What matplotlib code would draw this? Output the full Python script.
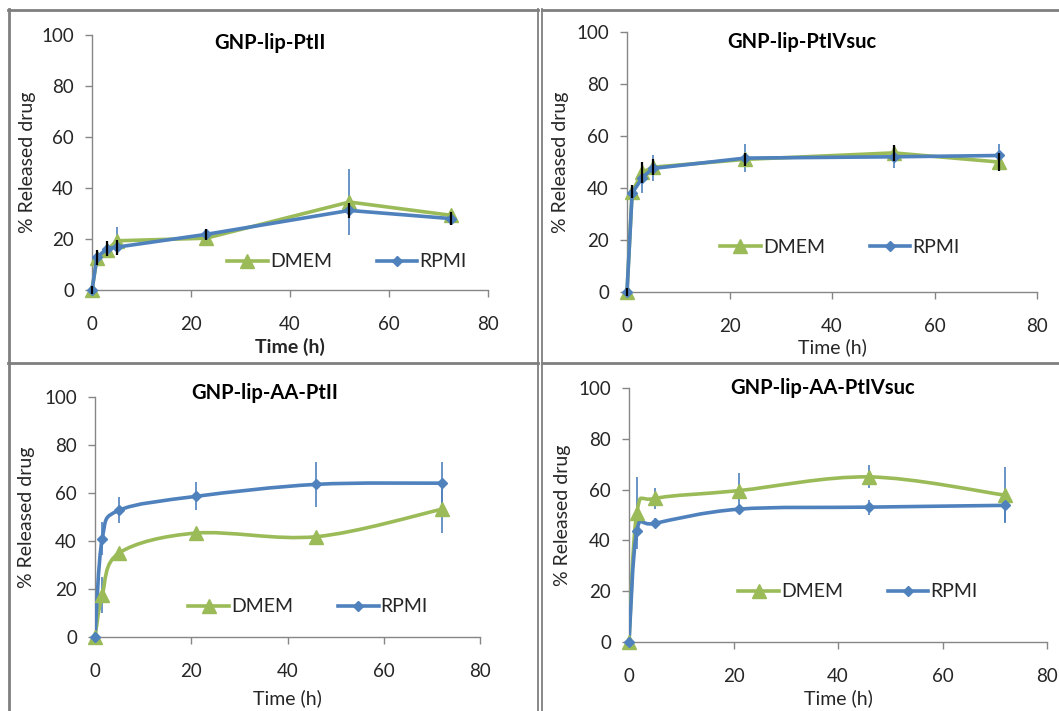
import matplotlib
matplotlib.use("Agg")
import matplotlib.pyplot as plt
from matplotlib.path import Path
from matplotlib.patches import PathPatch
from matplotlib.lines import Line2D

plt.rcParams['font.family'] = ['Lato', 'DejaVu Sans']

# ---- data: release (%) vs time (h) ----
t_top = [0, 1, 3, 5, 23, 52, 72.5]
t_bot = [0, 1.5, 5, 21, 46, 72]

ptii_dmem = [0, 12.5, 15.5, 19.3, 20.3, 34.5, 29.3]
ptii_dmem_err = [0.5, 2.0, 3.0, 5.5, 1.5, 12.8, 1.5]
ptii_rpmi = [0, 12.8, 16.2, 16.8, 21.8, 31.2, 28.0]
ptii_rpmi_err = [1.5, 3.0, 3.0, 3.0, 2.0, 3.0, 2.5]

ptiv_dmem = [0, 38.5, 46, 48, 51, 53.5, 50]
ptiv_dmem_err = [1.5, 2.5, 4.0, 3.0, 2.5, 3.0, 3.5]
ptiv_rpmi = [0, 38, 44, 47.5, 51.5, 52, 52.5]
ptiv_rpmi_err = [0.5, 2.0, 6.0, 5.0, 5.5, 4.5, 4.5]

aa_ptii_dmem = [0, 17.5, 35, 43.3, 41.8, 53.2]
aa_ptii_dmem_err = [0.5, 7.5, 1.0, 1.0, 1.0, 10.0]
aa_ptii_rpmi = [0, 41, 52.8, 58.6, 63.6, 64.1]
aa_ptii_rpmi_err = [0.5, 7.0, 5.5, 5.8, 9.5, 9.0]

aa_ptiv_dmem = [0, 50.8, 56.5, 59.6, 65, 57.8]
aa_ptiv_dmem_err = [0.5, 14.0, 4.0, 7.0, 4.5, 11.0]
aa_ptiv_rpmi = [0, 43.6, 46.7, 52.3, 53.1, 53.8]
aa_ptiv_rpmi_err = [0.5, 4.0, 2.0, 1.5, 3.0, 6.5]

titles = ['GNP-lip-PtII', 'GNP-lip-PtIVsuc', 'GNP-lip-AA-PtII', 'GNP-lip-AA-PtIVsuc']

GREEN = '#9bbb59'
BLUE = '#4f81bd'
AXCOL = '#868686'
TXT = '#262626'

W, H = 1059, 711
fig = plt.figure(figsize=(W / 100, H / 100), dpi=100)


def px_ax(x0, x1, y0, y1):
    # axes rect from pixel box (left, right, top, bottom)
    return [x0 / W, 1 - y1 / H, (x1 - x0) / W, (y1 - y0) / H]


def smooth_line(ax, x, y, color, lw):
    # Excel style smoothed line: cubic bezier through every point
    n = len(x)
    verts = [(x[0], y[0])]
    codes = [Path.MOVETO]
    for i in range(n - 1):
        i0 = max(i - 1, 0)
        i3 = min(i + 2, n - 1)
        c1 = (x[i] + (x[i + 1] - x[i0]) / 6, y[i] + (y[i + 1] - y[i0]) / 6)
        c2 = (x[i + 1] - (x[i3] - x[i]) / 6, y[i + 1] - (y[i3] - y[i]) / 6)
        verts += [c1, c2, (x[i + 1], y[i + 1])]
        codes += [Path.CURVE4] * 3
    ax.add_patch(PathPatch(Path(verts, codes), fill=False, edgecolor=color,
                           lw=lw, capstyle='round', joinstyle='round', zorder=3))


panels = [
    dict(box=(92, 488, 35, 290), t=t_top, d=ptii_dmem, de=ptii_dmem_err,
         r=ptii_rpmi, re=ptii_rpmi_err, smooth=False, dcol=BLUE, rcol='black',
         title_xy=(0.45, 0.969), leg=(0.341, 0.11), xlab_y=-0.224, ylab_x=-0.164,
         bold_xlabel=True),
    dict(box=(627, 1037, 32, 292), t=t_top, d=ptiv_dmem, de=ptiv_dmem_err,
         r=ptiv_rpmi, re=ptiv_rpmi_err, smooth=False, dcol='black', rcol=BLUE,
         title_xy=(0.427, 0.96), leg=(0.227, 0.173), xlab_y=-0.212, ylab_x=-0.163,
         bold_xlabel=False),
    dict(box=(95, 480, 397, 637), t=t_bot, d=aa_ptii_dmem, de=aa_ptii_dmem_err,
         r=aa_ptii_rpmi, re=aa_ptii_rpmi_err, smooth=True, dcol=BLUE, rcol=BLUE,
         title_xy=(0.44, 1.017), leg=(0.242, 0.125), xlab_y=-0.254, ylab_x=-0.177,
         bold_xlabel=False),
    dict(box=(629, 1047, 388, 642), t=t_bot, d=aa_ptiv_dmem, de=aa_ptiv_dmem_err,
         r=aa_ptiv_rpmi, re=aa_ptiv_rpmi_err, smooth=True, dcol=BLUE, rcol=BLUE,
         title_xy=(0.464, 1.0), leg=(0.261, 0.197), xlab_y=-0.22, ylab_x=-0.158,
         bold_xlabel=False),
]

for p, title in zip(panels, titles):
    ax = fig.add_axes(px_ax(*p['box']))
    ax.set_xlim(0, 80)
    ax.set_ylim(0, 100)
    ax.set_xticks([0, 20, 40, 60, 80])
    ax.set_yticks([0, 20, 40, 60, 80, 100])
    for s in ['top', 'right']:
        ax.spines[s].set_visible(False)
    for s in ['left', 'bottom']:
        ax.spines[s].set_color(AXCOL)
        ax.spines[s].set_linewidth(1.0)
    ax.tick_params(axis='both', direction='out', length=5, width=1.0, color=AXCOL,
                   labelsize=13.5, labelcolor=TXT)
    ax.tick_params(axis='x', pad=14)
    ax.tick_params(axis='y', pad=8)

    # error bars; the black ones sit on top of the markers
    for vals, errs, col in [(p['d'], p['de'], p['dcol']), (p['r'], p['re'], p['rcol'])]:
        z = 5 if col == 'black' else 2
        lw = 1.6 if col == 'black' else 1.2
        ax.errorbar(p['t'], vals, yerr=errs, fmt='none', ecolor=col,
                    elinewidth=lw, capsize=0, zorder=z, clip_on=False)

    if p['smooth']:
        smooth_line(ax, p['t'], p['d'], GREEN, 2.6)
        smooth_line(ax, p['t'], p['r'], BLUE, 2.6)
        ax.plot(p['t'], p['d'], ls='none', marker='^', ms=10, color=GREEN,
                zorder=4, clip_on=False)
        ax.plot(p['t'], p['r'], ls='none', marker='D', ms=5.5, color=BLUE,
                zorder=4, clip_on=False)
    else:
        ax.plot(p['t'], p['d'], '-', marker='^', ms=10, color=GREEN, lw=2.6,
                zorder=3, clip_on=False)
        ax.plot(p['t'], p['r'], '-', marker='D', ms=5.5, color=BLUE, lw=2.6,
                zorder=4, clip_on=False)

    h_d = Line2D([], [], color=GREEN, lw=2.6, marker='^', ms=10)
    h_r = Line2D([], [], color=BLUE, lw=2.6, marker='D', ms=5.5)
    ax.legend([h_d, h_r], ['DMEM', 'RPMI'], ncol=2, loc='center left',
              bbox_to_anchor=p['leg'], frameon=False, fontsize=14,
              handlelength=2.1, handletextpad=0.1, columnspacing=2.3,
              borderpad=0, borderaxespad=0, numpoints=1, labelcolor=TXT)

    ax.set_title(title, fontsize=14.5, fontweight='bold', color='black',
                 x=p['title_xy'][0], y=p['title_xy'][1], va='center', pad=0)
    ax.set_xlabel('Time (h)', fontsize=14, color=TXT,
                  fontweight='bold' if p['bold_xlabel'] else 'normal')
    ax.xaxis.set_label_coords(0.5, p['xlab_y'])
    ax.xaxis.label.set_va('center')
    ax.set_ylabel('% Released drug', fontsize=14, color=TXT)
    ax.yaxis.set_label_coords(p['ylab_x'], 0.5)
    ax.yaxis.label.set_va('center')

# panel frames
FR = '#7f7f7f'


def hline(y, x0, x1, lw=2.0):
    fig.add_artist(Line2D([x0 / W, x1 / W], [1 - y / H, 1 - y / H], color=FR, lw=lw))


def vline(x, y0, y1, lw=2.0):
    fig.add_artist(Line2D([x / W, x / W], [1 - y0 / H, 1 - y1 / H], color=FR, lw=lw))


hline(9.5, 8, 537.5)
hline(9.5, 541.5, 1059)
hline(363, 8, 537.5)
hline(363, 541.5, 1059)
vline(8.5, 9, 711)
vline(537.5, 9, 711, lw=1.3)
vline(541.5, 9, 711, lw=1.3)

fig.savefig('out.png', dpi=100)
